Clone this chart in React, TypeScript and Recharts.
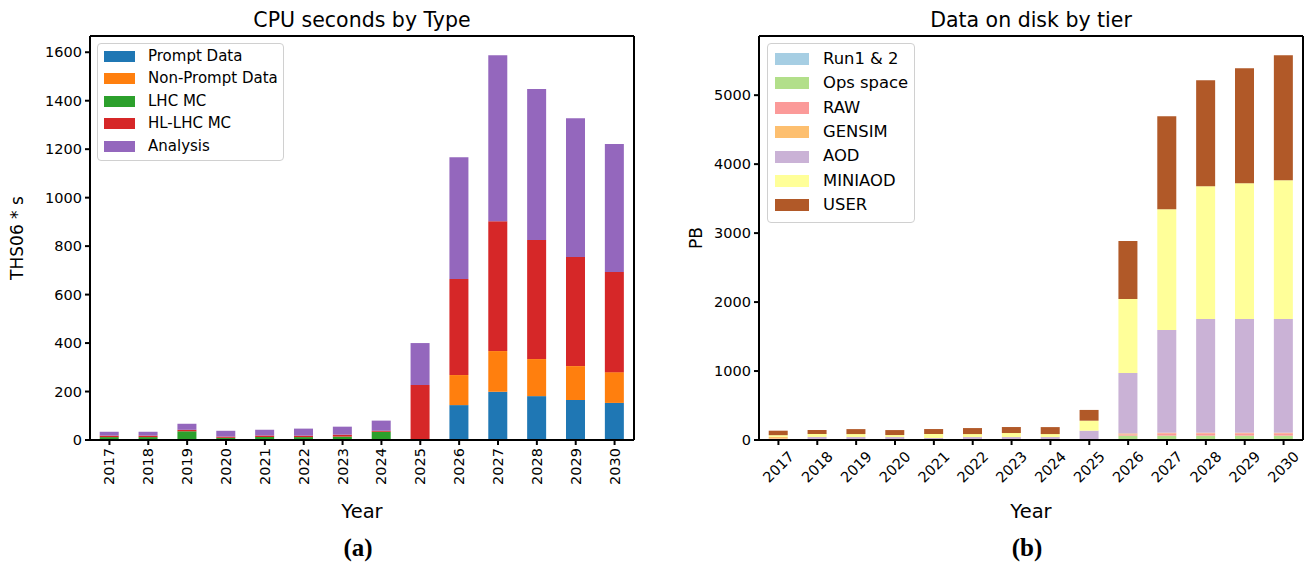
import React from 'react';
import { BarChart, Bar, XAxis, YAxis, Legend } from 'recharts';

const years = ['2017', '2018', '2019', '2020', '2021', '2022', '2023', '2024', '2025', '2026', '2027', '2028', '2029', '2030'];

// CPU seconds by Type (THS06 * s)
const promptData = [0, 0, 0, 0, 0, 0, 0, 0, 0, 144, 199, 181, 165, 153];
const nonPromptData = [0, 0, 0, 0, 0, 0, 0, 0, 0, 124, 168, 153, 140, 127];
const lhcMC = [12, 12, 36, 9, 12, 12, 14, 34, 0, 0, 0, 0, 0, 0];
const hlLhcMC = [6, 6, 6, 5, 7, 6, 8, 4, 227, 396, 536, 491, 450, 413];
const analysis = [16, 16, 25, 24, 23, 29, 33, 42, 173, 503, 685, 623, 573, 528];
const cpuTicks = [0, 200, 400, 600, 800, 1000, 1200, 1400, 1600];

// Data on disk by tier (PB)
const run12 = [0, 0, 0, 0, 0, 0, 0, 0, 0, 0, 0, 0, 0, 0];
const opsSpace = [0, 0, 0, 0, 0, 0, 0, 0, 0, 63, 63, 63, 63, 63];
const raw = [20, 0, 0, 0, 0, 0, 0, 0, 0, 19, 35, 35, 35, 35];
const gensim = [25, 15, 0, 0, 0, 0, 0, 0, 0, 14, 7, 7, 7, 7];
const aod = [0, 29, 43, 43, 29, 43, 43, 43, 135, 875, 1489, 1648, 1648, 1648];
const miniaod = [25, 43, 43, 29, 58, 43, 58, 43, 145, 1072, 1753, 1927, 1971, 2014];
const user = [65, 58, 72, 72, 72, 87, 87, 101, 156, 841, 1348, 1536, 1666, 1812];
const diskTicks = [0, 1000, 2000, 3000, 4000, 5000];

const cpuSeries = [
  { key: 'prompt', name: 'Prompt Data', color: '#1f77b4', values: promptData },
  { key: 'nonprompt', name: 'Non-Prompt Data', color: '#ff7f0e', values: nonPromptData },
  { key: 'lhcmc', name: 'LHC MC', color: '#2ca02c', values: lhcMC },
  { key: 'hllhcmc', name: 'HL-LHC MC', color: '#d62728', values: hlLhcMC },
  { key: 'analysis', name: 'Analysis', color: '#9467bd', values: analysis },
];

const diskSeries = [
  { key: 'run12', name: 'Run1 & 2', color: '#a6cee3', values: run12 },
  { key: 'ops', name: 'Ops space', color: '#b2df8a', values: opsSpace },
  { key: 'raw', name: 'RAW', color: '#fb9a99', values: raw },
  { key: 'gensim', name: 'GENSIM', color: '#fdbf6f', values: gensim },
  { key: 'aod', name: 'AOD', color: '#cab2d6', values: aod },
  { key: 'miniaod', name: 'MINIAOD', color: '#ffff99', values: miniaod },
  { key: 'user', name: 'USER', color: '#b15928', values: user },
];

const cpuData = years.map((y, i) => {
  const row: any = { year: y };
  cpuSeries.forEach((s) => (row[s.key] = s.values[i]));
  return row;
});
const diskData = years.map((y, i) => {
  const row: any = { year: y };
  diskSeries.forEach((s) => (row[s.key] = s.values[i]));
  return row;
});

const FONT = 'DejaVu Sans';
const TICK_FS = 14.5;
const axisLine = { stroke: '#000', strokeWidth: 2 };
const tickLine = { stroke: '#000', strokeWidth: 2 };

const VertTick = (props: any) => {
  const { x, y, payload } = props;
  return (
    <text
      x={x}
      y={y}
      transform={`rotate(-90 ${x} ${y})`}
      textAnchor="end"
      dominantBaseline="central"
      fontFamily={FONT}
      fontSize={TICK_FS}
      fill="#000"
    >
      {payload.value}
    </text>
  );
};

const DiagTick = (props: any) => {
  const { x, y, payload } = props;
  const cx = x;
  const cy = y + 19;
  return (
    <text
      x={cx}
      y={cy}
      transform={`rotate(-45 ${cx} ${cy})`}
      textAnchor="middle"
      dominantBaseline="central"
      fontFamily={FONT}
      fontSize={TICK_FS}
      fill="#000"
    >
      {payload.value}
    </text>
  );
};

const makeLegend = (series: any[], opts: any) => () => (
  <div
    style={{
      border: '1px solid #d0d0d0',
      borderRadius: 4,
      background: 'rgba(255,255,255,0.85)',
      padding: `${opts.padTop}px ${opts.padRight}px ${opts.padBottom}px ${opts.padLeft}px`,
      fontFamily: FONT,
      fontSize: opts.fontSize,
      color: '#000',
      boxSizing: 'border-box',
      width: opts.width,
    }}
  >
    {series.map((s) => (
      <div key={s.key} style={{ display: 'flex', alignItems: 'center', height: opts.rowH }}>
        <div style={{ width: opts.swW, height: opts.swH, background: s.color, marginRight: opts.gap, flexShrink: 0 }} />
        <span style={{ whiteSpace: 'nowrap', lineHeight: 1 }}>{s.name}</span>
      </div>
    ))}
  </div>
);

const CpuLegend = makeLegend(cpuSeries, {
  padTop: 0.75, padBottom: 3, padLeft: 6, padRight: 6, fontSize: 15, rowH: 22.5, swW: 31, swH: 11, gap: 13, width: 187,
});
const DiskLegend = makeLegend(diskSeries, {
  padTop: 2.8, padBottom: 4, padLeft: 7, padRight: 6, fontSize: 16.4, rowH: 24.4, swW: 34, swH: 12, gap: 14, width: 148,
});

export default function App() {
  return (
    <div style={{ position: 'absolute', left: 0, top: 0, width: 1313, height: 567, background: '#fff' }}>
      <div style={{ position: 'absolute', left: 0, top: 0 }}>
        <BarChart
          width={660}
          height={567}
          data={cpuData}
          margin={{ top: 35, right: 25, left: 0, bottom: 47 }}
          barCategoryGap="25%"
        >
          <XAxis
            dataKey="year"
            height={80}
            axisLine={axisLine}
            tickLine={tickLine}
            tickSize={5}
            tickMargin={3}
            interval={0}
            tick={<VertTick />}
          />
          <XAxis xAxisId="top" dataKey="year" orientation="top" height={1} tick={false} tickLine={false} axisLine={axisLine} />
          <YAxis
            width={90}
            domain={[0, 1667]}
            ticks={cpuTicks}
            allowDataOverflow
            axisLine={axisLine}
            tickLine={tickLine}
            tickSize={5}
            tickMargin={3}
            tick={{ fontFamily: FONT, fontSize: TICK_FS, fill: '#000' }}
          />
          <YAxis yAxisId="right" orientation="right" width={1} domain={[0, 1667]} tick={false} tickLine={false} axisLine={axisLine} />
          <Legend
            layout="vertical"
            align="center"
            verticalAlign="middle"
            content={<CpuLegend />}
            wrapperStyle={{ left: 97, top: 43, width: 187 }}
          />
          {cpuSeries.map((s) => (
            <Bar key={s.key} dataKey={s.key} name={s.name} stackId="a" fill={s.color} isAnimationActive={false} />
          ))}
        </BarChart>
      </div>
      <div style={{ position: 'absolute', left: 660, top: 0 }}>
        <BarChart
          width={653}
          height={567}
          data={diskData}
          margin={{ top: 35, right: 9, left: 0, bottom: 47 }}
          barCategoryGap="25%"
        >
          <XAxis
            dataKey="year"
            height={80}
            axisLine={axisLine}
            tickLine={tickLine}
            tickSize={5}
            tickMargin={3}
            interval={0}
            tick={<DiagTick />}
          />
          <XAxis xAxisId="top" dataKey="year" orientation="top" height={1} tick={false} tickLine={false} axisLine={axisLine} />
          <YAxis
            width={99}
            domain={[0, 5858]}
            ticks={diskTicks}
            allowDataOverflow
            axisLine={axisLine}
            tickLine={tickLine}
            tickSize={5}
            tickMargin={3}
            tick={{ fontFamily: FONT, fontSize: TICK_FS, fill: '#000' }}
          />
          <YAxis yAxisId="right" orientation="right" width={1} domain={[0, 5858]} tick={false} tickLine={false} axisLine={axisLine} />
          <Legend
            layout="vertical"
            align="center"
            verticalAlign="middle"
            content={<DiskLegend />}
            wrapperStyle={{ left: 107, top: 43, width: 148 }}
          />
          {diskSeries.map((s) => (
            <Bar key={s.key} dataKey={s.key} name={s.name} stackId="b" fill={s.color} isAnimationActive={false} />
          ))}
        </BarChart>
      </div>
      <svg width={1313} height={567} style={{ position: 'absolute', left: 0, top: 0, pointerEvents: 'none' }}>
        <text x={362} y={27} textAnchor="middle" fontFamily={FONT} fontSize={20.5} fill="#000">CPU seconds by Type</text>
        <text x={1031} y={27} textAnchor="middle" fontFamily={FONT} fontSize={20.5} fill="#000">Data on disk by tier</text>
        <text x={23} y={238} transform="rotate(-90 23 238)" textAnchor="middle" fontFamily={FONT} fontSize={17} fill="#000">THS06 * s</text>
        <text x={702} y={238} transform="rotate(-90 702 238)" textAnchor="middle" fontFamily={FONT} fontSize={17} fill="#000">PB</text>
        <text x={362} y={518} textAnchor="middle" fontFamily={FONT} fontSize={19.5} fill="#000">Year</text>
        <text x={1031} y={518} textAnchor="middle" fontFamily={FONT} fontSize={19.5} fill="#000">Year</text>
        <text x={358} y={556} textAnchor="middle" fontFamily="Liberation Serif" fontWeight="bold" fontSize={25} fill="#000">(a)</text>
        <text x={1027} y={556} textAnchor="middle" fontFamily="Liberation Serif" fontWeight="bold" fontSize={25} fill="#000">(b)</text>
      </svg>
    </div>
  );
}
